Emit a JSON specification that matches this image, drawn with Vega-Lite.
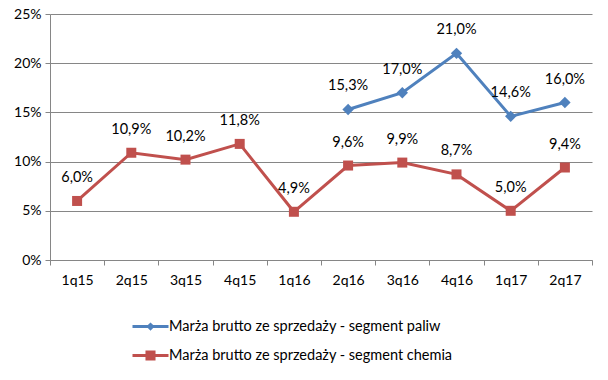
{
  "$schema": "https://vega.github.io/schema/vega-lite/v6.json",
  "width": 542,
  "height": 246,
  "autosize": {"type": "none"},
  "padding": {"left": 50, "top": 14, "right": 16, "bottom": 120},
  "config": {
    "locale": {"number": {"decimal": ",", "thousands": " ", "grouping": [3], "currency": ["", " zł"]}},
    "view": {"stroke": null},
    "font": "Lato"
  },
  "data": {"values": [
    {"q": "1q15", "s": "Marża brutto ze sprzedaży - segment chemia", "v": 0.060},
    {"q": "2q15", "s": "Marża brutto ze sprzedaży - segment chemia", "v": 0.109},
    {"q": "3q15", "s": "Marża brutto ze sprzedaży - segment chemia", "v": 0.102},
    {"q": "4q15", "s": "Marża brutto ze sprzedaży - segment chemia", "v": 0.118},
    {"q": "1q16", "s": "Marża brutto ze sprzedaży - segment chemia", "v": 0.049},
    {"q": "2q16", "s": "Marża brutto ze sprzedaży - segment chemia", "v": 0.096},
    {"q": "3q16", "s": "Marża brutto ze sprzedaży - segment chemia", "v": 0.099},
    {"q": "4q16", "s": "Marża brutto ze sprzedaży - segment chemia", "v": 0.087},
    {"q": "1q17", "s": "Marża brutto ze sprzedaży - segment chemia", "v": 0.050},
    {"q": "2q17", "s": "Marża brutto ze sprzedaży - segment chemia", "v": 0.094},
    {"q": "2q16", "s": "Marża brutto ze sprzedaży - segment paliw", "v": 0.153},
    {"q": "3q16", "s": "Marża brutto ze sprzedaży - segment paliw", "v": 0.170},
    {"q": "4q16", "s": "Marża brutto ze sprzedaży - segment paliw", "v": 0.210},
    {"q": "1q17", "s": "Marża brutto ze sprzedaży - segment paliw", "v": 0.146},
    {"q": "2q17", "s": "Marża brutto ze sprzedaży - segment paliw", "v": 0.160}
  ]},
  "encoding": {
    "x": {
      "field": "q", "type": "nominal",
      "sort": ["1q15","2q15","3q15","4q15","1q16","2q16","3q16","4q16","1q17","2q17"],
      "axis": {"title": null, "labelAngle": 0, "tickBand": "extent", "grid": false,
        "domainColor": "#868686", "tickColor": "#868686", "labelFontSize": 14, "labelColor": "#000",
        "labelPadding": 8, "tickSize": 5, "labelFont": "Lato"}
    },
    "y": {
      "field": "v", "type": "quantitative",
      "scale": {"domain": [0, 0.25], "nice": false},
      "axis": {"title": null, "format": ".0%", "values": [0, 0.05, 0.1, 0.15, 0.2, 0.25],
        "gridColor": "#868686", "domainColor": "#868686", "tickColor": "#868686",
        "labelFontSize": 14, "labelColor": "#000", "labelPadding": 4, "tickSize": 5, "labelFont": "Lato"}
    }
  },
  "layer": [
    {
      "mark": {"type": "line", "strokeWidth": 3},
      "encoding": {
        "color": {"field": "s", "type": "nominal",
          "scale": {"domain": ["Marża brutto ze sprzedaży - segment paliw", "Marża brutto ze sprzedaży - segment chemia"], "range": ["#4F81BD", "#C0504D"]}}
      }
    },
    {
      "transform": [{"filter": "indexof(datum.s, 'paliw') >= 0"}],
      "mark": {"type": "point", "filled": true, "opacity": 1, "shape": "diamond", "size": 130},
      "encoding": {"color": {"field": "s", "type": "nominal"}}
    },
    {
      "transform": [{"filter": "indexof(datum.s, 'chemia') >= 0"}],
      "mark": {"type": "point", "filled": true, "opacity": 1, "shape": "square", "size": 100},
      "encoding": {"color": {"field": "s", "type": "nominal"}}
    },
    {
      "mark": {"type": "point", "filled": true, "opacity": 0, "size": 225},
      "encoding": {
        "color": {"field": "s", "type": "nominal",
          "legend": {"orient": "none", "legendX": 93, "legendY": 305, "direction": "vertical", "title": null,
            "labelFontSize": 14.5, "labelFont": "Lato", "labelColor": "#000", "rowPadding": 14, "symbolSize": 225,
            "labelOffset": 11, "labelLimit": 500, "symbolStrokeWidth": 0, "symbolOpacity": 1}},
        "shape": {"field": "s", "type": "nominal",
          "scale": {"domain": ["Marża brutto ze sprzedaży - segment paliw", "Marża brutto ze sprzedaży - segment chemia"],
            "range": ["M-2.4,-0.2H-0.35L0,-0.55L0.35,-0.2H2.4V0.2H0.35L0,0.55L-0.35,0.2H-2.4Z", "M-2.4,-0.2H-0.67V-0.67H0.67V-0.2H2.4V0.2H0.67V0.67H-0.67V0.2H-2.4Z"]},
          "legend": {"orient": "none", "legendX": 93, "legendY": 305, "direction": "vertical", "title": null,
            "labelFontSize": 14.5, "labelFont": "Lato", "labelColor": "#000", "rowPadding": 14, "symbolSize": 225,
            "labelOffset": 11, "labelLimit": 500, "symbolStrokeWidth": 0, "symbolOpacity": 1}}
      }
    },
    {
      "mark": {"type": "text", "dy": -23, "baseline": "middle", "fontSize": 14.5, "font": "Lato", "color": "#000"},
      "encoding": {"text": {"field": "v", "type": "quantitative", "format": ".1%"}}
    }
  ]
}
